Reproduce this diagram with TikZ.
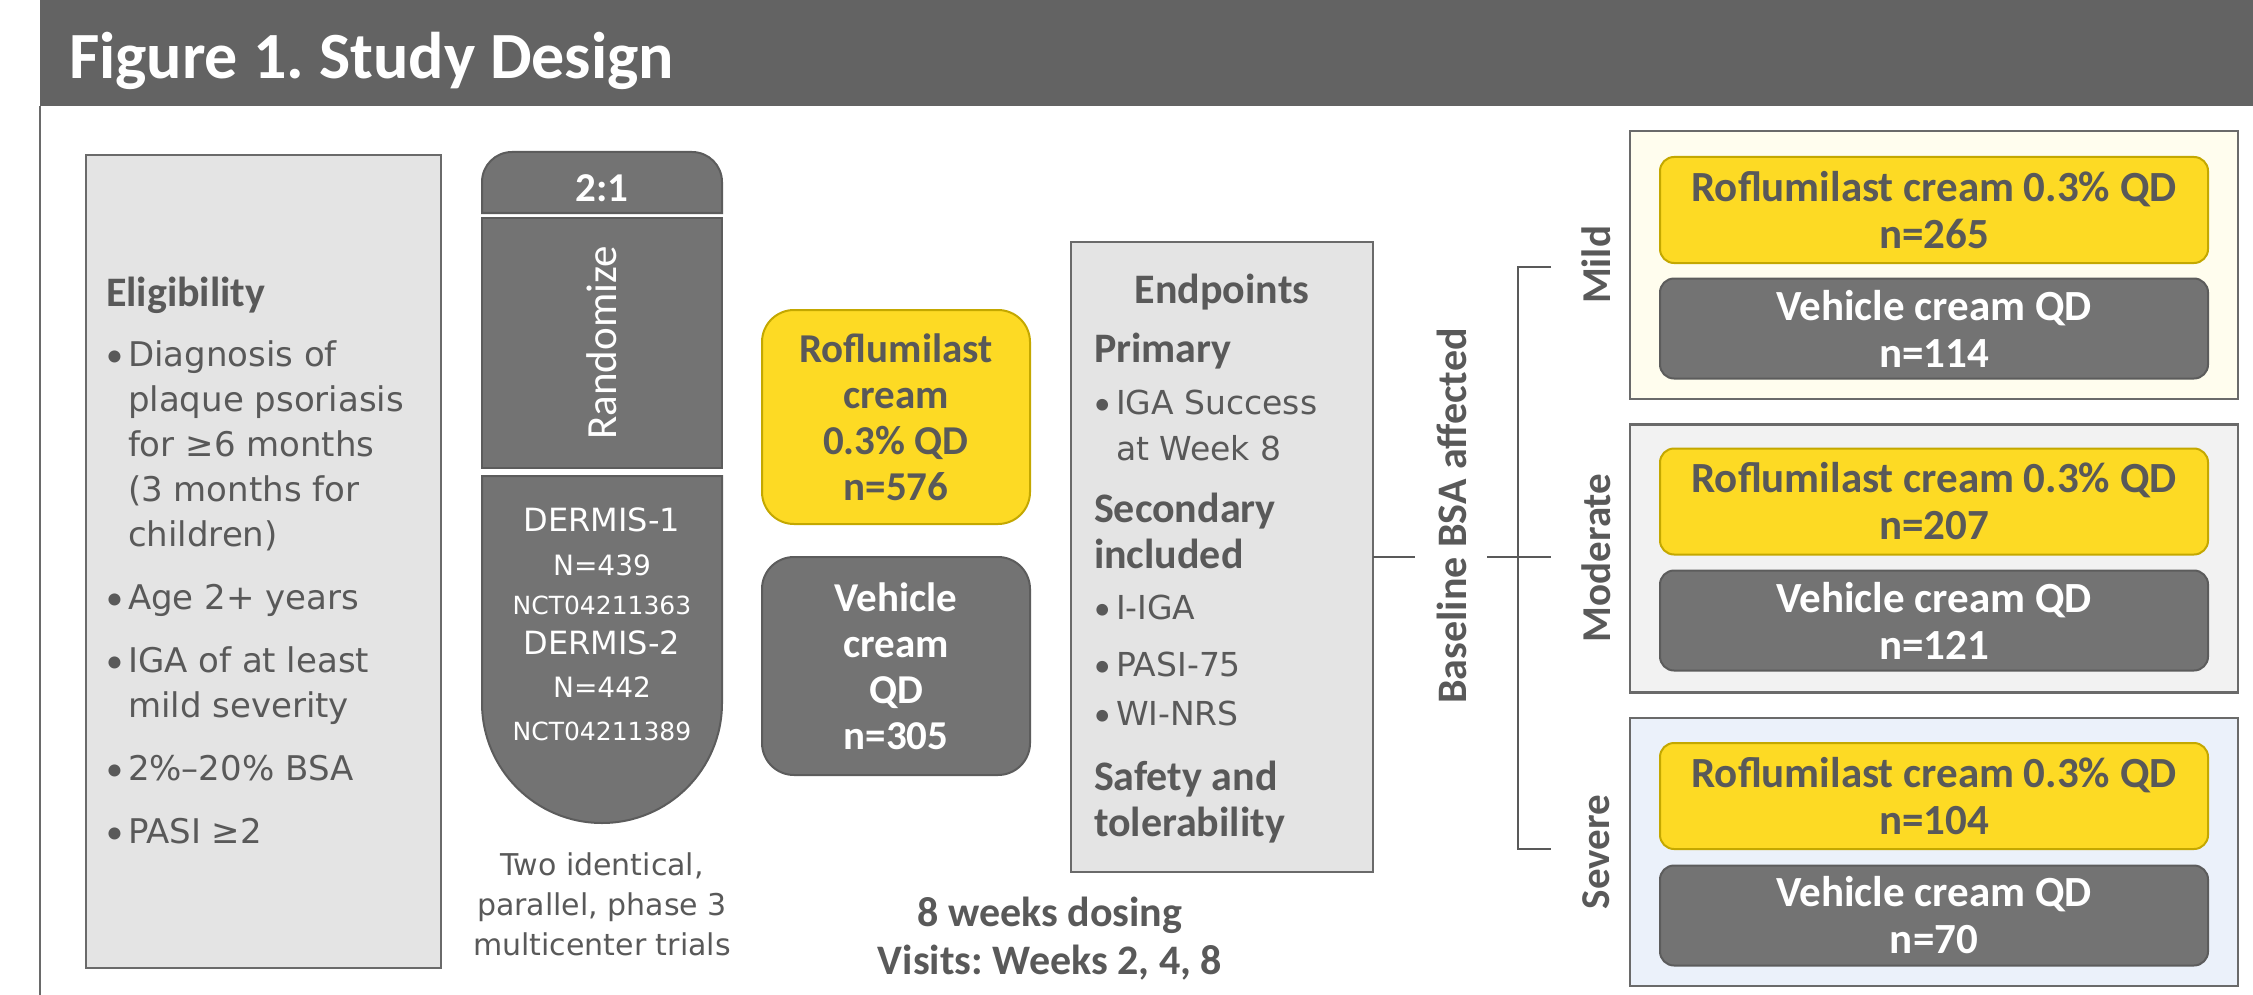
\documentclass[tikz,border=0pt]{standalone}
\usepackage{fontspec}
\setmainfont{Carlito}
\newfontfamily\dv{DejaVu Sans}
\definecolor{barc}{HTML}{636363}
\definecolor{txt}{HTML}{595959}
\definecolor{dark}{HTML}{737373}
\definecolor{darkline}{HTML}{5C5C5C}
\definecolor{lgrey}{HTML}{E4E4E4}
\definecolor{boxline}{HTML}{6A6A6A}
\definecolor{yel}{HTML}{FDDA24}
\definecolor{yelline}{HTML}{C4A800}
\definecolor{mildbg}{HTML}{FFFDEE}
\definecolor{modbg}{HTML}{F2F2F2}
\definecolor{sevbg}{HTML}{EBF1FA}
\newcommand\fs[2]{\fontsize{#1}{#2}\selectfont}
\newcommand\hb{\rmfamily\bfseries\fontsize{42}{46}\selectfont}
\newcommand\bul{\makebox[22pt][l]{\rmfamily\textbullet}}
\newcommand\ind{\hspace*{22pt}}
\newcommand\dm{\fontsize{32}{42}\selectfont}
\newcommand\nct{\fontsize{25}{42}\selectfont}
\frenchspacing
\tikzset{
  every node/.style={inner sep=0pt,outer sep=0pt},
  greybox/.style={draw=boxline,fill=lgrey,line width=2.5pt},
  capsule/.style={fill=dark,draw=darkline,line width=2pt},
  midyel/.style={draw=yelline,fill=yel,line width=2pt,rounded corners=32pt,minimum width=268pt,text=txt,align=center,font=\fs{41}{46}\bfseries},
  middark/.style={draw=darkline,fill=dark,line width=2pt,rounded corners=32pt,minimum width=268pt,text=white,align=center,font=\fs{41}{46}\bfseries},
  group/.style={draw=boxline,line width=2.5pt,minimum width=608pt,minimum height=268pt},
  armyel/.style={draw=yelline,fill=yel,line width=2pt,rounded corners=14pt,minimum width=548pt,minimum height=106pt,text=txt,align=center,font=\fs{43}{47}\bfseries},
  armdark/.style={draw=darkline,fill=dark,line width=2pt,rounded corners=14pt,minimum width=548pt,minimum height=100pt,text=white,align=center,font=\fs{43}{47}\bfseries},
  sevlabel/.style={rotate=90,text=txt,font=\fs{41}{41}\bfseries},
  conn/.style={draw=txt,line width=2.8pt},
}
\begin{document}
\begin{tikzpicture}[x=1pt,y=-1pt]
\useasboundingbox (0,0) rectangle (2253,995);
\fill[white] (0,0) rectangle (2253,995);
% title bar
\node[fill=barc,anchor=north west,minimum width=2213pt,minimum height=106pt] (bar) at (40,0) {};
\node[anchor=base west,text=white,font=\fs{66}{70}\bfseries] (title) at (69,79) {Figure 1. Study Design};
\coordinate (fb) at (40,995);
\draw[draw=boxline,line width=2.5pt] (bar.south west) -- (fb);
% eligibility
\node[greybox,anchor=north west,minimum width=355pt,minimum height=813pt] (elig) at (86,155) {};
\node[anchor=west,align=left,text=txt,font=\fs{34}{45}\dv] (eligtext) at (106,560)
 {{\hb Eligibility}\\[15pt]\bul Diagnosis of\\\ind plaque psoriasis\\\ind for ≥6 months\\\ind (3 months for\\\ind children)\\[18pt]\bul Age 2+ years\\[18pt]\bul IGA of at least\\\ind mild severity\\[18pt]\bul 2\%–20\% BSA\\[18pt]\bul PASI ≥2};
% capsule
\path[capsule] (482,213) -- (482,182) .. controls (482,165.4) and (495.4,152) .. (512,152) -- (692,152) .. controls (708.6,152) and (722,165.4) .. (722,182) -- (722,213) -- cycle;
\node[anchor=base,text=white,font=\fs{41}{41}\bfseries] (ratio) at (602,202) {2:1};
\node[capsule,rotate=90,minimum width=250pt,minimum height=240pt,text=white,font=\fs{43}{43}] (rand) at (602,343) {Randomize};
\path[capsule] (482,476) -- (722,476) -- (722,703) .. controls (722,769.3) and (668.3,823) .. (602,823) .. controls (535.7,823) and (482,769.3) .. (482,703) -- cycle;
\node[text=white,align=center,font=\fs{28}{42}\dv] (trials) at (602,624)
 {{\dm DERMIS-1}\\[2pt]N=439\\[-3pt]{\nct NCT04211363}\\[-2pt]{\dm DERMIS-2}\\[1pt]N=442\\[1pt]{\nct NCT04211389}};
\node[text=txt,align=center,font=\fs{30}{40}\dv] (caption) at (602,904) {Two identical,\\parallel, phase 3\\multicenter trials};
% arms
\node[midyel,minimum height=214pt] (rof) at (896,417) {Roflumilast\\cream\\0.3\% QD\\n=576};
\node[middark,minimum height=218pt] (veh) at (896,666) {Vehicle\\cream\\QD\\n=305};
\node[text=txt,align=center,font=\fs{42}{48}\bfseries] (dosing) at (1050,939) {8 weeks dosing\\Visits: Weeks 2, 4, 8};
% endpoints
\node[greybox,anchor=north west,minimum width=302pt,minimum height=630pt] (endp) at (1071,242) {};
\node[anchor=base,text=txt,font=\hb] (endptitle) at (1222,303) {Endpoints};
\node[anchor=west,align=left,text=txt,font=\fs{33}{46}\dv] (endptext) at (1094,588.5)
 {{\hb Primary}\\[6pt]\bul IGA Success\\\ind at Week 8\\[16pt]{\hb Secondary}\\{\hb included}\\[5pt]\bul I-IGA\\[11pt]\bul PASI-75\\[3pt]\bul WI-NRS\\[19pt]{\hb Safety and}\\{\hb tolerability}};
% connectors
\coordinate (c1) at (1415,557);
\coordinate (c2) at (1487,557);
\coordinate (mt) at (1551,557);
\coordinate (tt) at (1551,267);
\coordinate (tc) at (1518,267);
\coordinate (bc) at (1518,849);
\coordinate (bt) at (1551,849);
\draw[conn] (endp.east) -- (c1);
\node[rotate=90,text=txt,font=\fs{42}{42}\bfseries] (bsa) at (1452,516) {Baseline BSA affected};
\draw[conn] (c2) -- (mt);
\draw[conn] (tt) -- (tc) -- (bc) -- (bt);
% groups
\node[group,fill=mildbg] (gmild) at (1934,265) {};
\node[group,fill=modbg] (gmod) at (1934,558.5) {};
\node[group,fill=sevbg] (gsev) at (1934,852) {};
\node[armyel] (r1) at (1934,210) {Roflumilast cream 0.3\% QD\\n=265};
\node[armdark] (v1) at (1934,328.5) {Vehicle cream QD\\n=114};
\node[armyel] (r2) at (1934,501.5) {Roflumilast cream 0.3\% QD\\n=207};
\node[armdark] (v2) at (1934,620.5) {Vehicle cream QD\\n=121};
\node[armyel] (r3) at (1934,796) {Roflumilast cream 0.3\% QD\\n=104};
\node[armdark] (v3) at (1934,915.5) {Vehicle cream QD\\n=70};
\node[sevlabel] (lmild) at (1596,265) {Mild};
\node[sevlabel] (lmod) at (1596,558) {Moderate};
\node[sevlabel] (lsev) at (1596,852) {Severe};
\end{tikzpicture}
\end{document}
